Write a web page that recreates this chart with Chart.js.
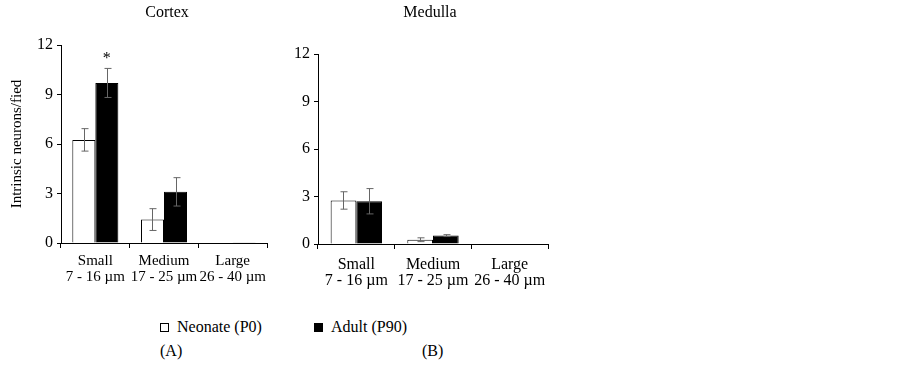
<!DOCTYPE html>
<html>
<head>
<meta charset="utf-8">
<script src="https://cdn.jsdelivr.net/npm/chart.js@4"></script>
<style>
  body { margin: 0; background: #fff; font-family: "Liberation Serif", "Times New Roman", serif; }
  #wrap { position: relative; width: 902px; height: 368px; }
  .box { position: absolute; }
  .txt { position: absolute; font-size: 16px; line-height: 18px; color: #000; white-space: nowrap; }
  .sw { display: inline-block; width: 9px; height: 9px; border: 1px solid #000; margin-right: 8px; vertical-align: 0px; box-sizing: border-box; }
</style>
</head>
<body>
<div id="wrap">
  <div class="box" style="left:0;top:0;width:280px;height:300px"><canvas id="cortexChart"></canvas></div>
  <div class="box" style="left:280px;top:0;width:290px;height:300px"><canvas id="medullaChart"></canvas></div>
  <div class="txt" style="left:160px;top:318px"><span class="sw" style="background:#fff"></span>Neonate (P0)</div>
  <div class="txt" style="left:314px;top:318px"><span class="sw" style="background:#000"></span>Adult (P90)</div>
  <div class="txt" style="left:160px;top:342px">(A)</div>
  <div class="txt" style="left:422px;top:342px">(B)</div>
</div>
<script>
// categories and values
var categories = [['Small', '7 - 16 \u00b5m'], ['Medium', '17 - 25 \u00b5m'], ['Large', '26 - 40 \u00b5m']];
var yTicks = [0, 3, 6, 9, 12];

var cortexNeonate = [6.25, 1.42, 0];
var cortexNeonateErr = [0.68, 0.66, 0];
var cortexAdult = [9.7, 3.1, 0.05];
var cortexAdultErr = [0.88, 0.86, 0];

var medullaNeonate = [2.75, 0.27, 0.03];
var medullaNeonateErr = [0.55, 0.12, 0];
var medullaAdult = [2.7, 0.53, 0];
var medullaAdultErr = [0.8, 0.06, 0];

var FAMILY = '"Liberation Serif", "Times New Roman", serif';
var TICK_FONT = { family: FAMILY, size: 16 };
var TITLE_FONT = { family: FAMILY, size: 15 };

// error bars, panel title and significance star
var extras = {
    id: 'extras',
    afterDatasetsDraw: function(chart, args, opts) {
        var ctx = chart.ctx;
        var y = chart.scales.y;
        ctx.save();
        ctx.strokeStyle = '#666';
        ctx.lineWidth = 1;
        chart.data.datasets.forEach(function(ds, di) {
            var meta = chart.getDatasetMeta(di);
            meta.data.forEach(function(bar, i) {
                var e = ds.errors[i];
                if (!e) return;
                var x = Math.round(bar.x) + 0.5;
                var top = y.getPixelForValue(ds.data[i] + e);
                var bot = y.getPixelForValue(ds.data[i] - e);
                ctx.beginPath();
                ctx.moveTo(x, top); ctx.lineTo(x, bot);
                ctx.moveTo(x - 3, top); ctx.lineTo(x + 4, top);
                ctx.moveTo(x - 3, bot); ctx.lineTo(x + 4, bot);
                ctx.stroke();
            });
        });
        ctx.fillStyle = '#000';
        ctx.font = '16px ' + FAMILY;
        ctx.textAlign = 'center';
        ctx.textBaseline = 'middle';
        var a = chart.chartArea;
        ctx.fillText(opts.title, (a.left + a.right) / 2 + opts.titleShift, 13);
        if (opts.star) {
            var m = chart.getDatasetMeta(1).data[0];
            var ds1 = chart.data.datasets[1];
            ctx.fillText('*', m.x, y.getPixelForValue(ds1.data[0] + ds1.errors[0]) - 10);
        }
        ctx.restore();
    }
};

function makeChart(id, neo, neoErr, adu, aduErr, o) {
    var ctx = document.getElementById(id).getContext('2d');
    return new Chart(ctx, {
        type: 'bar',
        data: {
            labels: categories,
            datasets: [{
                label: 'Neonate (P0)',
                data: neo,
                errors: neoErr,
                backgroundColor: '#ffffff',
                borderColor: '#000000',
                borderWidth: 1
            }, {
                label: 'Adult (P90)',
                data: adu,
                errors: aduErr,
                backgroundColor: '#000000',
                borderColor: '#000000',
                borderWidth: 1
            }]
        },
        options: {
            responsive: true,
            maintainAspectRatio: false,
            animation: false,
            layout: { padding: { left: o.padLeft, right: o.padRight, top: o.top, bottom: 0 } },
            datasets: { bar: { categoryPercentage: 0.67, barPercentage: 1.0 } },
            plugins: {
                legend: { display: false },
                tooltip: { enabled: false },
                extras: { title: o.title, titleShift: o.titleShift, star: o.star }
            },
            scales: {
                x: {
                    grid: { display: true, offset: true, drawOnChartArea: false, color: '#000', tickLength: 5 },
                    border: { color: '#000', width: 1 },
                    ticks: { color: '#000', font: { family: FAMILY, size: o.labelSize, lineHeight: 1.05 }, padding: o.labelPad, maxRotation: 0, autoSkip: false },
                    afterFit: function(s) { s.height = 300 - o.bottom; }
                },
                y: {
                    min: 0,
                    max: 12,
                    afterBuildTicks: function(s) { s.ticks = yTicks.map(function(v) { return { value: v }; }); },
                    grid: { display: true, drawOnChartArea: false, color: '#000', tickLength: 4 },
                    border: { color: '#000', width: 1 },
                    ticks: { color: '#000', font: TICK_FONT, padding: 4 },
                    title: o.yTitle ? { display: true, text: 'Intrinsic neurons/fied', color: '#000', font: TITLE_FONT, padding: 0 } : { display: false },
                    afterFit: function(s) { s.width = o.axisX - o.padLeft; }
                }
            }
        },
        plugins: [extras]
    });
}

makeChart('cortexChart', cortexNeonate, cortexNeonateErr, cortexAdult, cortexAdultErr,
    { padLeft: 8, padRight: 13, top: 45, bottom: 243, axisX: 61, labelSize: 15, labelPad: 5, title: 'Cortex', titleShift: 3, star: true, yTitle: true });
makeChart('medullaChart', medullaNeonate, medullaNeonateErr, medullaAdult, medullaAdultErr,
    { padLeft: 0, padRight: 22, top: 54, bottom: 244, axisX: 38, labelSize: 16, labelPad: 7, title: 'Medulla', titleShift: -3, star: false, yTitle: false });
</script>
</body>
</html>
